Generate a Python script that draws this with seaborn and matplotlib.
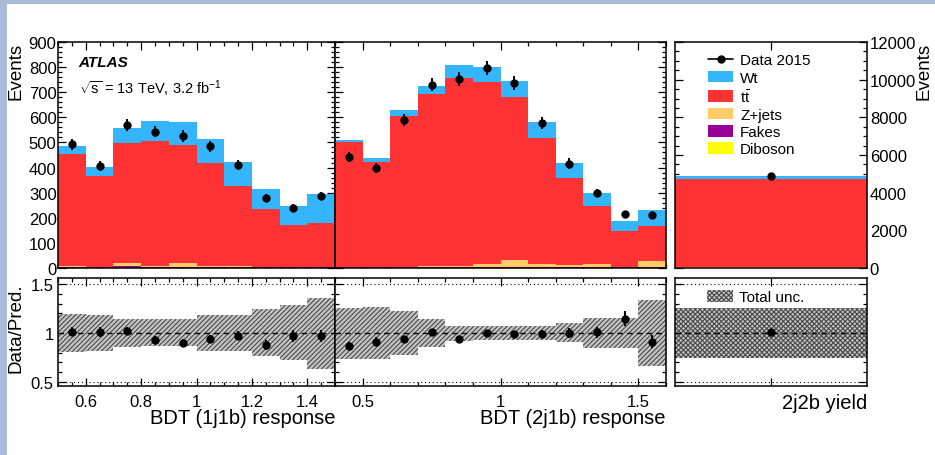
import numpy as np
import pandas as pd
import matplotlib
matplotlib.use("Agg")
import matplotlib.pyplot as plt
import seaborn as sns
from matplotlib.patches import Patch, Rectangle
from matplotlib.lines import Line2D
from matplotlib.ticker import MultipleLocator, FixedLocator, FuncFormatter, NullFormatter, NullLocator

# ---------------- binning ----------------
edges_1j1b = [0.5, 0.6, 0.7, 0.8, 0.9, 1.0, 1.1, 1.2, 1.3, 1.4, 1.5]
edges_2j1b = [0.4, 0.5, 0.6, 0.7, 0.8, 0.9, 1.0, 1.1, 1.2, 1.3, 1.4, 1.5, 1.6]
edges_2j2b = [0.0, 1.0]

# ---------------- predicted yields per process ----------------
wt_1j1b = [33, 37, 60, 79, 91, 96, 94, 81, 73, 115]
tt_1j1b = [443, 362, 476, 500, 471, 412, 321, 230, 168, 175]
zjets_1j1b = [5, 2, 14, 5, 18, 5, 5, 3, 3, 3]
fakes_1j1b = [3, 1, 5, 1, 1, 1, 1, 1, 1, 1]
diboson_1j1b = [1, 1, 1, 1, 1, 1, 1, 1, 1, 1]

wt_2j1b = [9, 16, 24, 34, 50, 59, 65, 62, 57, 50, 38, 61]
tt_2j1b = [499, 419, 600, 685, 748, 724, 649, 505, 348, 233, 146, 143]
zjets_2j1b = [1, 1, 3, 5, 7, 14, 28, 10, 8, 12, 1, 24]
fakes_2j1b = [1, 1, 1, 1, 1, 2, 3, 3, 3, 1, 1, 1]
diboson_2j1b = [1, 1, 1, 1, 1, 1, 1, 1, 1, 1, 1, 1]

wt_2j2b = [141]
tt_2j2b = [4654]
zjets_2j2b = [50]
fakes_2j2b = [15]
diboson_2j2b = [10]

# ---------------- observed data ----------------
data_1j1b = [492, 406, 568, 543, 525, 485, 410, 278, 239, 286]
data_2j1b = [442, 398, 588, 730, 754, 796, 737, 577, 416, 299, 214, 210]
data_2j2b = [4906]

# ---------------- total uncertainty band (relative) ----------------
unc_up_1j1b = [1.19, 1.18, 1.14, 1.14, 1.14, 1.18, 1.18, 1.24, 1.29, 1.36]
unc_dn_1j1b = [0.81, 0.82, 0.86, 0.87, 0.87, 0.82, 0.82, 0.77, 0.72, 0.63]
unc_up_2j1b = [1.255, 1.26, 1.22, 1.14, 1.075, 1.07, 1.07, 1.07, 1.10, 1.15, 1.15, 1.34]
unc_dn_2j1b = [0.735, 0.73, 0.775, 0.855, 0.92, 0.93, 0.93, 0.93, 0.905, 0.845, 0.845, 0.66]
unc_up_2j2b = [1.25]
unc_dn_2j2b = [0.75]

processes = ["Wt", "tt", "Zjets", "Fakes", "Diboson"]
proc_labels = ["Wt", r"$\mathrm{t\bar{t}}$", "Z+jets", "Fakes", "Diboson"]
proc_colors = {"Wt": "#35b6fc", "tt": "#ff3333", "Zjets": "#ffcc66",
               "Fakes": "#990099", "Diboson": "#ffff00"}

regions = [
    dict(edges=edges_1j1b, data=data_1j1b, up=unc_up_1j1b, dn=unc_dn_1j1b,
         yields=dict(Wt=wt_1j1b, tt=tt_1j1b, Zjets=zjets_1j1b, Fakes=fakes_1j1b, Diboson=diboson_1j1b)),
    dict(edges=edges_2j1b, data=data_2j1b, up=unc_up_2j1b, dn=unc_dn_2j1b,
         yields=dict(Wt=wt_2j1b, tt=tt_2j1b, Zjets=zjets_2j1b, Fakes=fakes_2j1b, Diboson=diboson_2j1b)),
    dict(edges=edges_2j2b, data=data_2j2b, up=unc_up_2j2b, dn=unc_dn_2j2b,
         yields=dict(Wt=wt_2j2b, tt=tt_2j2b, Zjets=zjets_2j2b, Fakes=fakes_2j2b, Diboson=diboson_2j2b)),
]

# ---------------- style ----------------
sns.set_theme(style="ticks")
plt.rcParams["font.family"] = ["Liberation Sans", "DejaVu Sans"]
plt.rcParams["mathtext.fontset"] = "custom"
plt.rcParams["mathtext.rm"] = "Liberation Sans"
plt.rcParams["mathtext.it"] = "Liberation Sans:italic"
plt.rcParams["mathtext.bf"] = "Liberation Sans:bold"
plt.rcParams["text.color"] = "black"
plt.rcParams["axes.edgecolor"] = "black"
plt.rcParams["xtick.color"] = "black"
plt.rcParams["ytick.color"] = "black"
plt.rcParams["axes.labelcolor"] = "black"
plt.rcParams["hatch.linewidth"] = 0.8

W, H = 935, 456
fig = plt.figure(figsize=(W / 100, H / 100), dpi=100)
fig.patch.set_facecolor("white")


def px_axes(left, top, right, bottom):
    return fig.add_axes([left / W, 1 - bottom / H, (right - left) / W, (bottom - top) / H])


# panel frames in pixel units
cols = [(58, 335), (335, 666), (675, 867)]
main_tb = (43, 269)
ratio_tb = (279, 387)

main_axes = [px_axes(l, main_tb[0], r, main_tb[1]) for l, r in cols]
ratio_axes = [px_axes(l, ratio_tb[0], r, ratio_tb[1]) for l, r in cols]

TICK_FS = 12
LABEL_FS = 13.5
BAND_FACE = "#c4c4c4"
BAND_LINE = "#4a4a4a"


def style(ax):
    ax.tick_params(which="both", direction="in", top=True, right=True,
                   bottom=True, left=True, width=0.9, labelsize=TICK_FS)
    ax.tick_params(which="major", length=6)
    ax.tick_params(which="minor", length=3)
    for s in ax.spines.values():
        s.set_linewidth(1.1)
        s.set_color("black")
    ax.set_facecolor("white")


fmt_g = FuncFormatter(lambda v, pos: f"{v:g}")

for i, (reg, ax, rax) in enumerate(zip(regions, main_axes, ratio_axes)):
    edges = np.array(reg["edges"])
    centers = 0.5 * (edges[:-1] + edges[1:])
    rows = []
    for p in processes:
        for c, v in zip(centers, reg["yields"][p]):
            rows.append((c, v, p))
    df = pd.DataFrame(rows, columns=["x", "events", "process"])

    sns.histplot(data=df, x="x", weights="events", hue="process",
                 hue_order=processes, palette=proc_colors, bins=list(reg["edges"]),
                 multiple="stack", element="step", fill=True, alpha=1,
                 linewidth=0, legend=False, ax=ax)

    data = np.array(reg["data"], dtype=float)
    total = np.sum([np.array(reg["yields"][p], dtype=float) for p in processes], axis=0)
    ax.errorbar(centers, data, yerr=np.sqrt(data), fmt="o", color="black",
                ms=5, elinewidth=1.4, capsize=0, zorder=5)

    # ratio panel
    up = np.array(reg["up"])
    dn = np.array(reg["dn"])
    hatch = "xxxxxxx" if i == 2 else "///////"
    rax.fill_between(edges, np.r_[dn, dn[-1]], np.r_[up, up[-1]], step="post",
                     facecolor=BAND_FACE, edgecolor=BAND_LINE, hatch=hatch,
                     linewidth=0, zorder=1)
    rax.axhline(1.0, color="black", ls=(0, (4, 3)), lw=1.0, zorder=2)
    rax.axhline(1.5, color="black", ls=(0, (1, 2.5)), lw=0.8, zorder=2)
    rax.axhline(0.5, color="black", ls=(0, (1, 2.5)), lw=0.8, zorder=2)
    rax.errorbar(centers, data / total, yerr=np.sqrt(data) / total, fmt="o",
                 color="black", ms=5, elinewidth=1.4, capsize=0, zorder=5)

    for a in (ax, rax):
        style(a)
        a.set_xlim(edges[0], edges[-1])
        a.set_xlabel("")
        a.set_ylabel("")

    rax.set_ylim(0.46, 1.56)
    rax.yaxis.set_major_locator(FixedLocator([0.5, 1.0, 1.5]))
    rax.yaxis.set_minor_locator(MultipleLocator(0.1))
    rax.yaxis.set_major_formatter(fmt_g)
    ax.xaxis.set_major_formatter(NullFormatter())

    if i == 0:
        ax.xaxis.set_major_locator(MultipleLocator(0.2))
        ax.xaxis.set_minor_locator(MultipleLocator(0.05))
        rax.xaxis.set_major_locator(MultipleLocator(0.2))
        rax.xaxis.set_minor_locator(MultipleLocator(0.05))
    elif i == 1:
        ax.xaxis.set_major_locator(MultipleLocator(0.5))
        ax.xaxis.set_minor_locator(MultipleLocator(0.1))
        rax.xaxis.set_major_locator(MultipleLocator(0.5))
        rax.xaxis.set_minor_locator(MultipleLocator(0.1))
    else:
        for a in (ax, rax):
            a.xaxis.set_major_locator(FixedLocator([0.5]))
            a.xaxis.set_minor_locator(NullLocator())
    rax.xaxis.set_major_formatter(fmt_g if i < 2 else NullFormatter())
    rax.tick_params(axis="x", pad=6)

# y axes of the distribution panels
for ax in main_axes[:2]:
    ax.set_ylim(0, 900)
    ax.yaxis.set_major_locator(MultipleLocator(100))
    ax.yaxis.set_minor_locator(MultipleLocator(20))
main_axes[0].tick_params(axis="y", pad=1)
main_axes[1].yaxis.set_major_formatter(NullFormatter())
main_axes[0].set_ylabel("Events", fontsize=LABEL_FS, loc="top")
main_axes[0].yaxis.set_label_coords(-0.12, 1.0)

ax3 = main_axes[2]
ax3.set_ylim(0, 12000)
ax3.yaxis.set_major_locator(MultipleLocator(2000))
ax3.yaxis.set_minor_locator(MultipleLocator(500))
ax3.yaxis.tick_right()
ax3.tick_params(axis="y", which="both", left=True, right=True, labelleft=False,
                labelright=True, pad=2)
ax3.yaxis.set_label_position("right")
ax3.set_ylabel("Events", fontsize=LABEL_FS, loc="top")
ax3.yaxis.set_label_coords(1.25, 1.0)

ratio_axes[0].set_ylabel("Data/Pred.", fontsize=LABEL_FS)
ratio_axes[0].yaxis.set_label_coords(-0.12, 0.54)
ratio_axes[0].tick_params(axis="y", pad=3)
for rax in ratio_axes[1:]:
    rax.yaxis.set_major_formatter(NullFormatter())

xlabels = ["BDT (1j1b) response", "BDT (2j1b) response", "2j2b yield"]
for rax, lab in zip(ratio_axes, xlabels):
    rax.set_xlabel(lab, fontsize=14.5, loc="right", labelpad=-1)

# legend (distribution)
handles = [Line2D([0], [0], color="black", marker="o", ms=5, lw=1.2)]
handles += [Patch(facecolor=proc_colors[p], edgecolor="none") for p in processes]
ax3.legend(handles, ["Data 2015"] + proc_labels, loc="upper left",
           bbox_to_anchor=(0.172, 0.95), frameon=False, fontsize=11,
           handlelength=1.65, handleheight=0.8, handletextpad=0.45,
           labelspacing=0.2, borderpad=0, borderaxespad=0)

# legend (uncertainty)
unc_patch = Patch(facecolor=BAND_FACE, edgecolor=BAND_LINE, hatch="xxxxxxx", linewidth=0)
ratio_axes[2].legend([unc_patch], ["Total unc."], loc="upper left",
                     bbox_to_anchor=(0.165, 0.89), frameon=False, fontsize=11,
                     handlelength=1.75, handleheight=0.8, handletextpad=0.35,
                     borderpad=0, borderaxespad=0)

# experiment labels
fig.text(78 / W, 1 - 63 / H, "ATLAS", fontsize=11, fontweight="bold",
         fontstyle="italic", ha="left", va="center")
fig.text(79 / W, 1 - 89 / H, r"$\sqrt{\mathrm{s}}$ = 13 TeV, 3.2 fb$^{-1}$",
         fontsize=10.5, ha="left", va="center")

# slide frame
fig.patches.append(Rectangle((0, 0), 7 / W, 1, transform=fig.transFigure,
                             facecolor="#a7bbd8", edgecolor="none", zorder=-1))
fig.patches.append(Rectangle((0, 1 - 5 / H), 1, 5 / H, transform=fig.transFigure,
                             facecolor="#a7bbd8", edgecolor="none", zorder=-1))

fig.savefig("out.png", dpi=100)
